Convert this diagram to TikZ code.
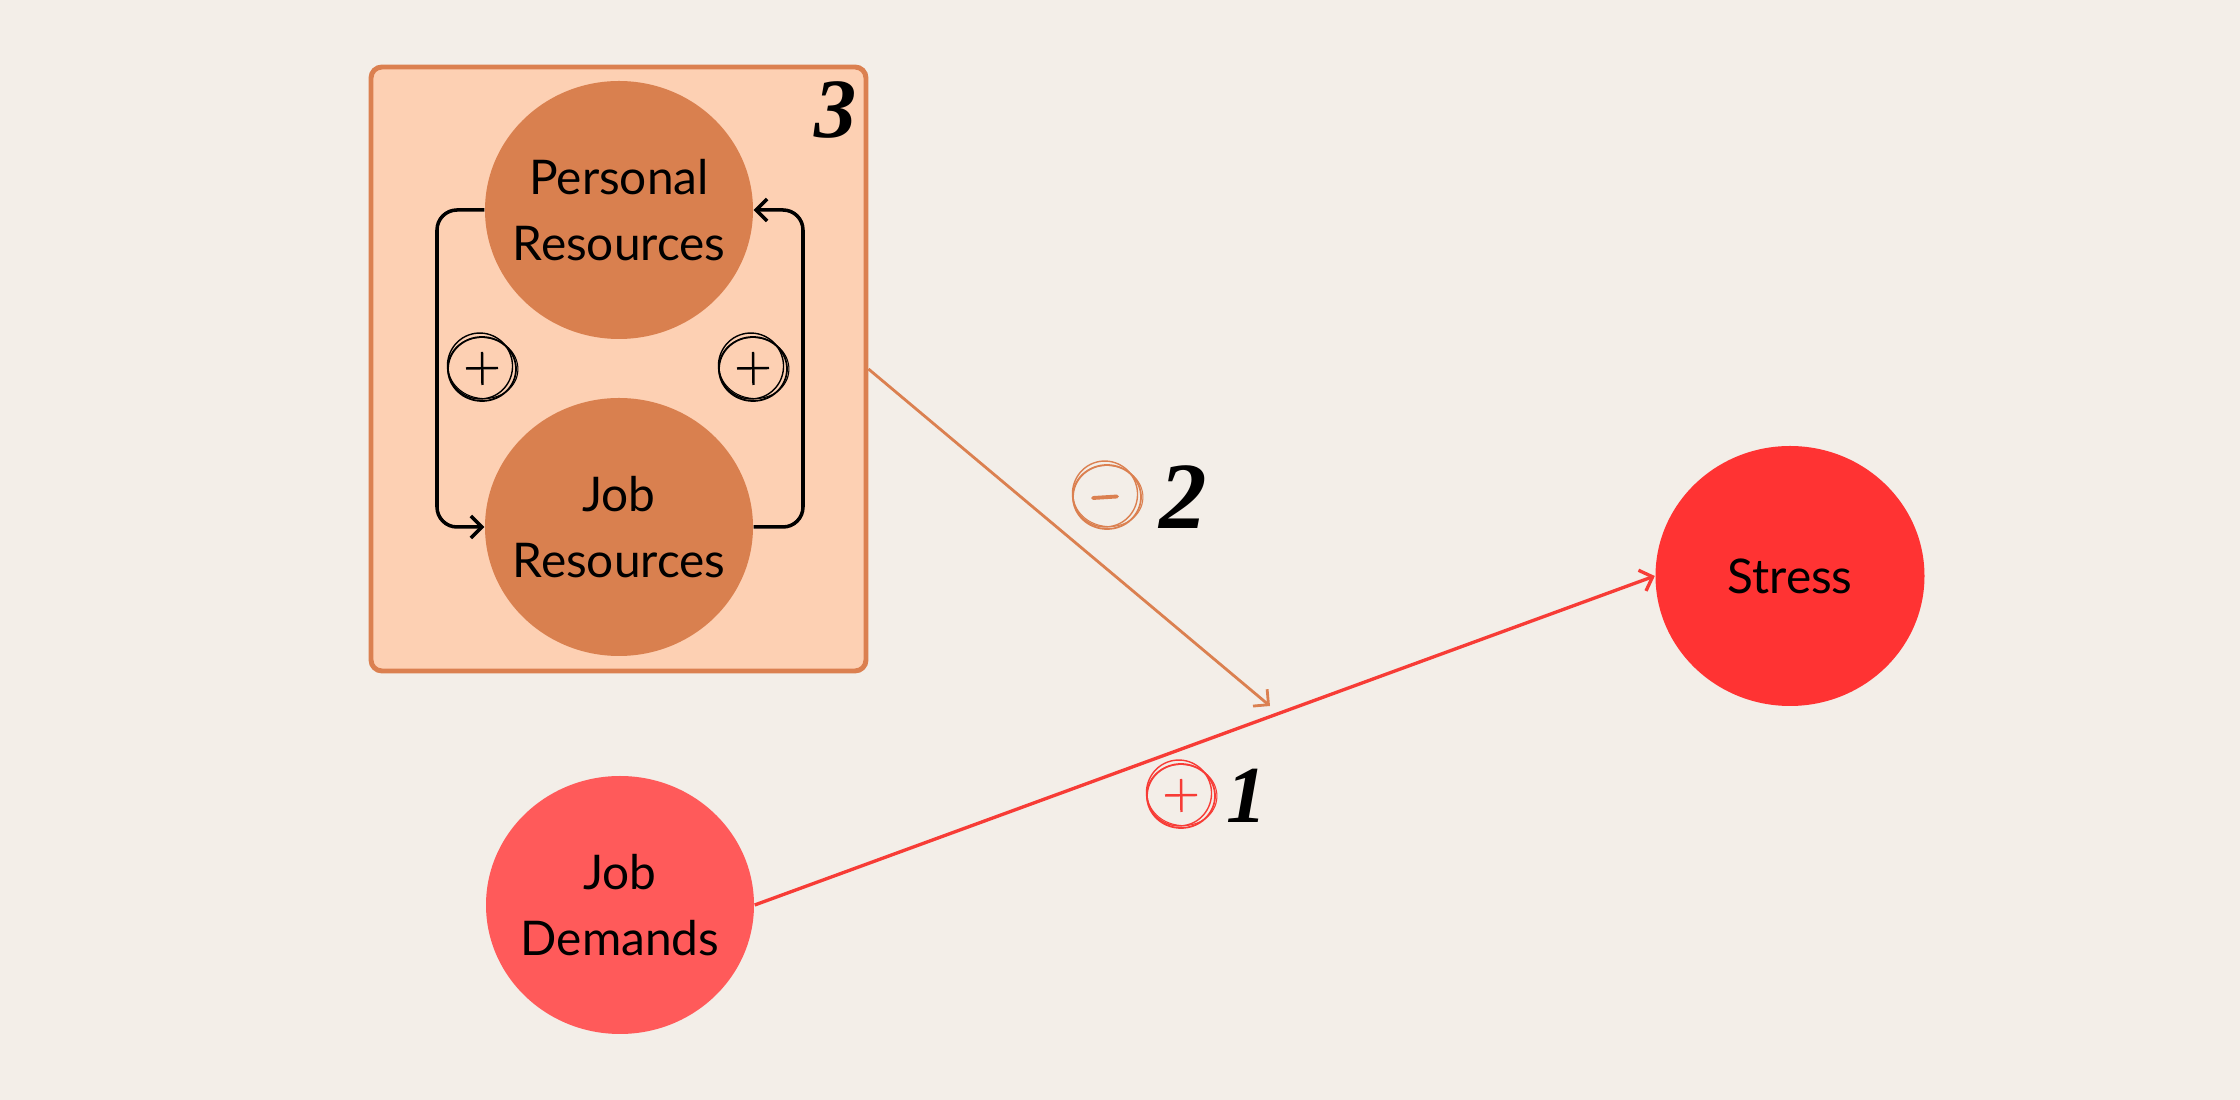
\documentclass[tikz,border=0pt]{standalone}
\usepackage{fontspec}
\setmainfont{Lato}
\newfontfamily\handfont{Liberation Serif}
\usetikzlibrary{arrows.meta,shapes.geometric}
\definecolor{bg}{HTML}{F3EEE8}
\definecolor{boxfill}{HTML}{FDD0B3}
\definecolor{boxline}{HTML}{DB8050}
\definecolor{resfill}{HTML}{D9804F}
\definecolor{stressred}{HTML}{FF3333}
\definecolor{demred}{HTML}{FF5A5A}
\definecolor{linered}{HTML}{F73C36}
\tikzset{
  blob/.style={ellipse, minimum width=2.68cm, minimum height=2.58cm, inner sep=0pt,
    label={[align=center, font=\fontsize{13.6}{18.6}\selectfont]center:#1}},
  grpbox/.style={draw=boxline, fill=boxfill, line width=1.4pt, rounded corners=1.1mm,
    minimum width=4.95cm, minimum height=6.04cm, inner sep=0pt},
  tipb/.style={-{Straight Barb[length=1.1mm,width=2.2mm]}},
  loopline/.style={tipb, line width=1pt, black, rounded corners=2mm},
  digit/.style={font=\handfont\bfseries\itshape\fontsize{#1}{#1}\selectfont, inner sep=0pt},
  pics/plussign/.style={code={
    \draw[line width=0.5pt] (0,0) ellipse [x radius=3.4mm, y radius=3.2mm];
    \draw[line width=0.4pt] (-0.2mm,0.3mm) ellipse [x radius=3.25mm, y radius=3.3mm, rotate=15];
    \draw[line width=0.3pt] (0.1mm,0.1mm) ellipse [x radius=3.5mm, y radius=3.05mm, rotate=-8];
    \draw[line width=0.7pt] (-1.6mm,0.05mm) -- (1.6mm,0.1mm);
    \draw[line width=0.7pt] (0,1.7mm) -- (0.05mm,-1.6mm);
  }},
  pics/minussign/.style={code={
    \draw[line width=0.5pt] (0,0) ellipse [x radius=3.4mm, y radius=3.2mm];
    \draw[line width=0.4pt] (-0.2mm,0.3mm) ellipse [x radius=3.25mm, y radius=3.3mm, rotate=15];
    \draw[line width=0.3pt] (0.1mm,0.1mm) ellipse [x radius=3.5mm, y radius=3.05mm, rotate=-8];
    \draw[line width=1.1pt, line cap=round] (-1.4mm,-0.1mm) -- (1.0mm,0.05mm);
  }}
}
\begin{document}
\begin{tikzpicture}[x=0.1mm, y=-0.1mm]
\path[fill=bg] (0,0) rectangle (2240,1100);
\useasboundingbox (0,0) rectangle (2240,1100);

\node[grpbox] (grp) at (618.5,369) {};
\node[blob={Personal\\Resources}, fill=resfill] (pr) at (619,210) {};
\node[blob={Job\\Resources}, fill=resfill] (jr) at (619,527) {};
\node[blob={Job\\Demands}, fill=demred] (jd) at (620,905) {};
\node[blob={Stress}, fill=stressred, minimum width=2.69cm, minimum height=2.6cm] (st) at (1790,576) {};

\draw[loopline] (pr.west) -| (437,527) -- (jr.west);
\draw[loopline] (jr.east) -| (803,210) -- (pr.east);

\coordinate (oend) at (1270,706);
\draw[tipb, boxline, line width=0.8pt] (grp.east) -- (oend);
\draw[tipb, linered, line width=0.95pt] (jd.east) -- (st.west);

\pic at (482,369) {plussign};
\pic at (753,369) {plussign};
\pic[boxline] at (1107,497) {minussign};
\pic[linered] at (1181,796) {plussign};

\node[digit=27] (d2) at (1183,497) {2};
\node[digit=23] (d1) at (1247,796) {1};
\node[digit=24] (d3) at (836,110) {3};
\end{tikzpicture}
\end{document}
